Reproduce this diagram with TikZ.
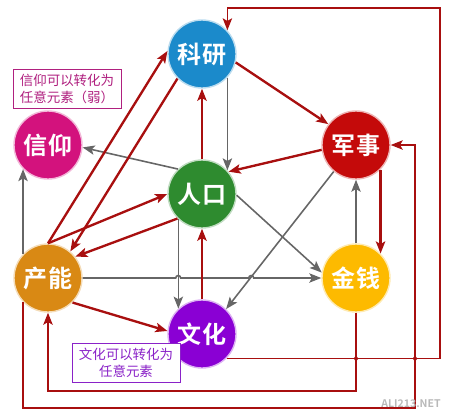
\documentclass[tikz,border=0pt]{standalone}
\usepackage{fontspec}
\setmainfont{Noto Sans CJK SC}[BoldFont={Noto Sans CJK SC Bold}]
\usetikzlibrary{arrows.meta, positioning}
\definecolor{kyblue}{HTML}{1B8ACB}
\definecolor{jsred}{HTML}{C40A0A}
\definecolor{xymag}{HTML}{D3127D}
\definecolor{rkgreen}{HTML}{2E8B2F}
\definecolor{cnorange}{HTML}{D98914}
\definecolor{jqyellow}{HTML}{FDBA00}
\definecolor{whpurple}{HTML}{8A00D4}
\definecolor{linered}{HTML}{A80F0F}
\definecolor{linegray}{HTML}{666666}
\definecolor{notemag}{HTML}{B0207F}
\definecolor{notepur}{HTML}{8A22C8}

\begin{document}
\begin{tikzpicture}[x=0.03cm, y=-0.03cm,
	ball/.style={circle, fill=#1, draw=#1!30, line width=1.2pt, minimum size=2.04cm, inner sep=0pt, text=white, font=\fontsize{20.5}{22}\selectfont\bfseries},
	tip/.style={-{Stealth[length=3.6mm, width=2.8mm, inset=0.8mm]}},
	rline/.style={draw=linered, line width=2pt, tip},
	gline/.style={draw=linegray, line width=1.35pt, tip},
	loopline/.style={draw=linered, line width=1.5pt},
	note/.style={draw=#1, text=#1, line width=0.8pt, fill=white, align=center, inner sep=0pt, minimum width=3.24cm, minimum height=1.17cm, font=\fontsize{11.5}{14.5}\selectfont}]
	\useasboundingbox (0,0) rectangle (452,413);

	\node[ball=kyblue] (ky) at (202,54) {科研};
	\node[ball=jsred] (js) at (356,145) {军事};
	\node[ball=xymag] (xy) at (48,145) {信仰};
	\node[ball=rkgreen] (rk) at (202,194) {人口};
	\node[ball=cnorange] (cn) at (48,278) {产能};
	\node[ball=jqyellow] (jq) at (356,278) {金钱};
	\node[ball=whpurple] (wh) at (202,334) {文化};

	\node[note=notemag] (xynote) at (67,89) {信仰可以转化为\\任意元素（弱）};
	\node[note=notepur] (whnote) at (126,363) {文化可以转化为\\任意元素};

	\coordinate (ne) at (440,8);
	\coordinate (se) at (415,408);

	\draw[gline] (ky.-43) -- (rk.43);
	\draw[gline] (rk.134) -- (xy.-4);
	\draw[gline] (cn.136) -- (xy.-136);
	\draw[gline] (cn.east) -- ++(93,0) arc(180:360:2.5) -- ++(68,0) arc(180:360:2.5) -- (jq.west);
	\draw[gline] (rk.-2) -- (jq.171);
	\draw[gline] (js.230) -- (wh.46);
	\draw[gline] (rk.-133) -- (wh.133);
	\draw[gline] (jq.north) -- (js.south);

	\draw[rline] (rk.north) -- (ky.south);
	\draw[rline] (ky.-14) -- (js.143);
	\draw[rline] (js.188) -- (rk.40);
	\draw[rline] (js.-45) -- (jq.45);
	\draw[rline] (wh.north) -- (rk.south);
	\draw[rline] (cn.-45) -- (wh.175);
	\draw[rline] (rk.225) -- (cn.38);
	\draw[rline] (cn.north) -- (rk.west);
	\draw[rline] (cn.north) -- (ky.175);
	\draw[rline] (ky.225) -- (cn.50);

	\draw[loopline, tip] (wh.-45) -| (ne) -| (ky.43);
	\draw[loopline, tip] (jq.south) -- ++(0,78) -| (cn.south);
	\draw[loopline, tip] (cn.-136) |- (se) |- (js.east);
	\fill[linered] (jq.south |- wh.-45) circle (2);
	\fill[linered] (se |- wh.-45) circle (2);

	\node[text=gray!55, font=\fontsize{9}{10}\selectfont\bfseries] (mark) at (411,404) {ALI213.NET};
\end{tikzpicture}
\end{document}
